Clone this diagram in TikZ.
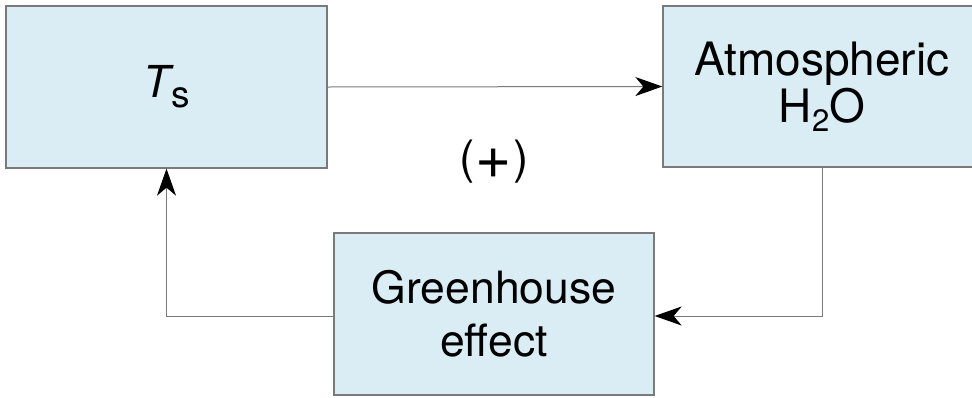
\documentclass[tikz,border=0pt]{standalone}
\usepackage{fontspec}
\setmainfont{TeX Gyre Heros}
\usetikzlibrary{arrows.meta}
\definecolor{boxfill}{HTML}{DAECF4}
\definecolor{boxline}{HTML}{7A7A7A}
\definecolor{linegray}{HTML}{7A7A7A}
\begin{document}
\begin{tikzpicture}[x=1pt,y=-1pt,
  blk/.style={draw=boxline, line width=1.3pt, fill=boxfill, inner sep=0pt,
    align=center, font=\fontsize{44}{47}\selectfont},
  conn/.style={draw=linegray, line width=1pt,
    -{Stealth[length=27pt,width=19pt,inset=8pt,black]}},
  lbl/.style={inner sep=0pt, font=\fontsize{46}{47}\selectfont}]
\useasboundingbox (0,0) rectangle (972,397);
\node[blk, minimum width=321pt, minimum height=162pt] (ts) at (166.5,87)
  {{\itshape T}\kern1pt\raisebox{-10pt}{\fontsize{37}{37}\selectfont s}};
\node[blk, minimum width=318pt, minimum height=161pt,
  font=\fontsize{46}{47}\selectfont] (atm) at (822,86.5)
  {Atmospheric\\H\raisebox{-9pt}{\fontsize{31}{31}\selectfont 2}O};
\node[blk, minimum width=320pt, minimum height=162pt,
  font=\fontsize{44.5}{53}\selectfont] (gh) at (494,314)
  {Greenhouse\\effect};
\node[lbl] (fb) at (494,162) {(\kern1pt\raisebox{-5pt}{\scalebox{1.35}{+}}\kern1pt)};
\coordinate (ghr) at ([yshift=-2pt]gh.east);
\coordinate (ghl) at ([yshift=-2pt]gh.west);
\draw[conn] (ts.east) -- (atm.west);
\draw[conn] (atm.south) |- (ghr);
\draw[conn] (ghl) -| (ts.south);
\end{tikzpicture}
\end{document}
